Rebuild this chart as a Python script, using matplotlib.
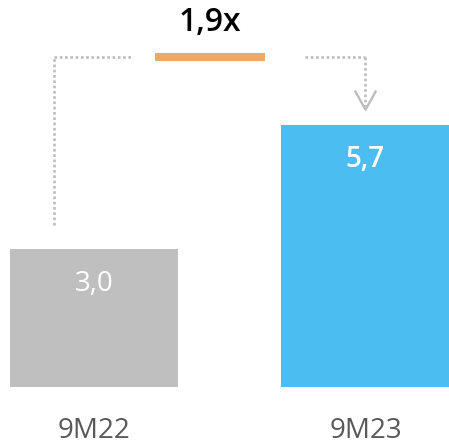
import numpy as np
from matplotlib import pyplot as plt

categories = ['9M22', '9M23']
values = [3.0, 5.7]
value_labels = ['3,0', '5,7']
growth_label = '1,9x'

bar_colors = ['#BFBFBF', '#4BBDF0']
orange = '#EEA765'
dot_gray = '#BCBCBC'

plt.rcParams['font.family'] = ['Open Sans', 'DejaVu Sans']

fig = plt.figure(figsize=(4.49, 4.47), dpi=100)
ax = fig.add_axes([0, 0, 1, 1])

x = np.arange(len(categories))
ax.bar(x, values, width=0.619, color=bar_colors)

ax.set_xlim(-0.346, 1.3075)
ax.set_ylim(-1.304, 8.413)
ax.axis('off')

# value labels inside bars
weights = ['normal', 'semibold']
for xi, v, lab, w in zip(x, values, value_labels, weights):
    ax.text(xi, v - 0.75, lab, ha='center', va='center', color='white',
            fontsize=20, fontweight=w)

# category labels
for xi, cat in zip(x, categories):
    ax.text(xi, -0.96, cat, ha='center', va='center', color='#595959', fontsize=20)

# growth annotation
y_top = 7.17
dots = dict(color=dot_gray, lw=1.9, linestyle=(0, (1, 1)), dash_capstyle='butt')
ax.plot([-0.147, -0.147], [3.52, y_top], **dots)
ax.plot([-0.147, 0.136], [y_top, y_top], **dots)
ax.plot([0.225, 0.630], [y_top, y_top], color=orange, lw=5.8, solid_capstyle='butt')
ax.plot([0.777, 1.0], [y_top, y_top], **dots)
ax.plot([1.0, 1.0], [y_top, 6.1], **dots)
# chevron arrow head
ax.plot([1.0 - 0.037, 1.0, 1.0 + 0.037], [6.42, 6.03, 6.42], color=dot_gray, lw=1.7)

ax.text(0.427, 7.93, growth_label, ha='center', va='center', color='black',
        fontsize=23, fontweight='semibold')

fig.savefig('out.png', dpi=100)
